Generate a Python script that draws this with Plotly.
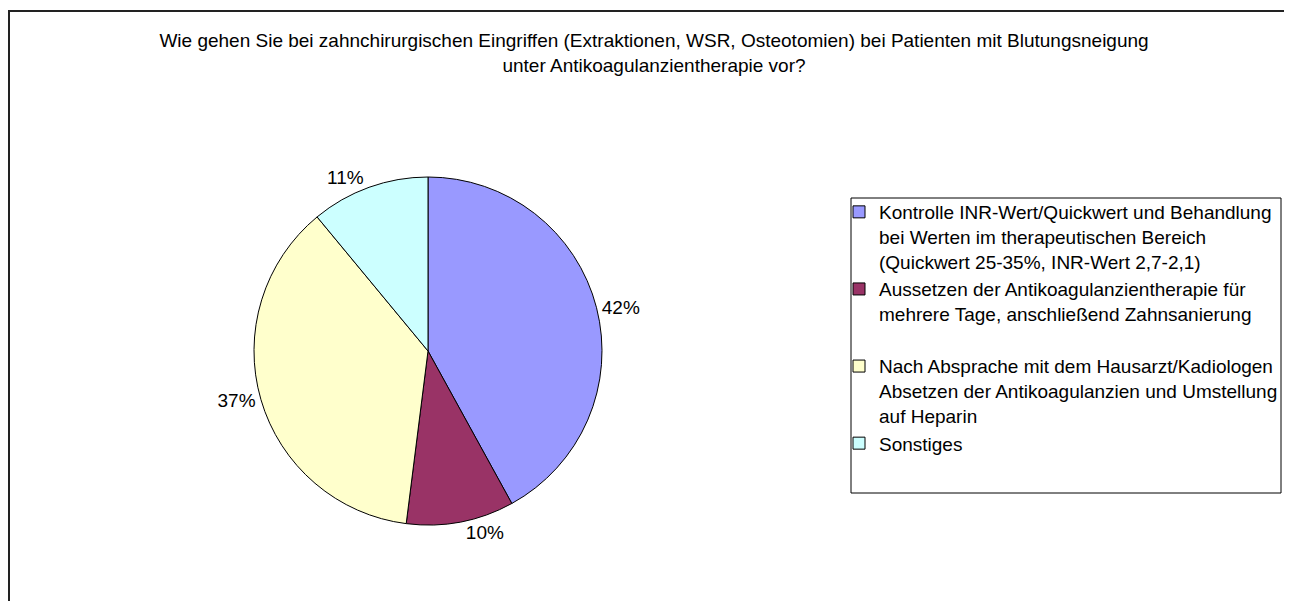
import plotly.graph_objects as go

W, H = 1292, 601

title_lines = [
    "Wie gehen Sie bei zahnchirurgischen Eingriffen (Extraktionen, WSR, Osteotomien) bei Patienten mit Blutungsneigung",
    "unter Antikoagulanzientherapie vor?",
]
categories = [
    "Kontrolle INR-Wert/Quickwert und Behandlung<br>bei Werten im therapeutischen Bereich<br>(Quickwert 25-35%, INR-Wert 2,7-2,1)",
    "Aussetzen der Antikoagulanzientherapie für<br>mehrere Tage, anschließend Zahnsanierung<br> ",
    "Nach Absprache mit dem Hausarzt/Kadiologen<br>Absetzen der Antikoagulanzien und Umstellung<br>auf Heparin",
    "Sonstiges",
]
values = [42, 10, 37, 11]
colors = ["#9999FF", "#993366", "#FFFFCC", "#CCFFFF"]

FONT = "Liberation Sans, Arial, sans-serif"

def px_x(x):
    return x / W

def px_y(y):
    return 1 - y / H

cx, cy, r = 420, 343, 174

fig = go.Figure(
    go.Pie(
        labels=categories,
        values=values,
        marker=dict(colors=colors, line=dict(color="#000000", width=1)),
        sort=False,
        direction="clockwise",
        rotation=0,
        textinfo="percent",
        texttemplate="%{percent:.0%}",
        textposition="outside",
        outsidetextfont=dict(family=FONT, size=19, color="#000000"),
        domain=dict(x=[px_x(cx - r), px_x(cx + r)], y=[px_y(cy + r), px_y(cy - r)]),
        showlegend=True,
        hoverinfo="label+percent",
    )
)

fig.update_layout(
    width=W,
    height=H,
    margin=dict(l=0, r=0, t=0, b=0),
    paper_bgcolor="#FFFFFF",
    plot_bgcolor="#FFFFFF",
    font=dict(family=FONT, size=19, color="#000000"),
    title=dict(
        text="<br>".join(title_lines),
        x=0.5,
        xanchor="center",
        y=px_y(39),
        yanchor="top",
        font=dict(family=FONT, size=19, color="#000000"),
    ),
    legend=dict(
        x=px_x(831),
        xanchor="left",
        y=px_y(185),
        yanchor="top",
        valign="top",
        bgcolor="rgba(0,0,0,0)",
        borderwidth=0,
        font=dict(family=FONT, size=19, color="#000000"),
        itemwidth=30,
        tracegroupgap=0,
    ),
    shapes=[
        dict(type="rect", xref="paper", yref="paper",
             x0=px_x(1), x1=px_x(1278), y0=-0.1, y1=px_y(3),
             line=dict(color="#222222", width=2), fillcolor="rgba(0,0,0,0)", layer="below"),
        dict(type="rect", xref="paper", yref="paper",
             x0=px_x(843), x1=px_x(1273), y0=px_y(485), y1=px_y(190),
             line=dict(color="#000000", width=1), fillcolor="rgba(0,0,0,0)", layer="below"),
    ],
)

fig.write_html("out.html")
